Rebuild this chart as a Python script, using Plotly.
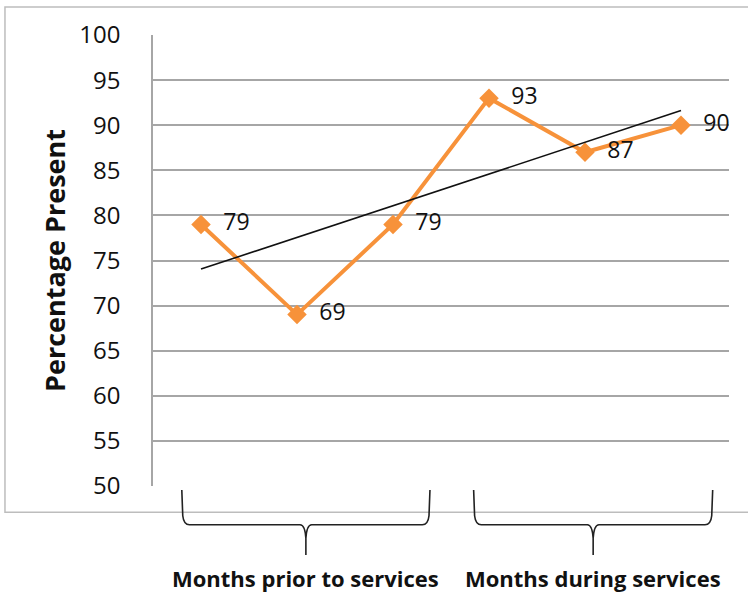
import numpy as np
import plotly.graph_objects as go

# Monthly attendance (percentage present), 3 months before and 3 months during services
months = [1, 2, 3, 4, 5, 6]
percent_present = [79, 69, 79, 93, 87, 90]
y_ticks = [50, 55, 60, 65, 70, 75, 80, 85, 90, 95, 100]
group_labels = ["Months prior to services", "Months during services"]
group_spans = [(0.80, 3.385), (3.84, 6.33)]

ORANGE = "#F7923A"
FONT = "Open Sans"

# linear trend through the attendance values
slope, intercept = np.polyfit(months, percent_present, 1)
trend = [slope * m + intercept for m in months]

fig = go.Figure()
fig.add_trace(go.Scatter(
    x=months, y=percent_present,
    mode="lines+markers+text",
    line=dict(color=ORANGE, width=4),
    marker=dict(symbol="diamond", size=15, color=ORANGE),
    text=["  " + str(v) for v in percent_present],
    textposition="middle right",
    textfont=dict(family=FONT, size=23, color="#111111"),
    showlegend=False,
    cliponaxis=False,
))
fig.add_trace(go.Scatter(
    x=[months[0], months[-1]], y=[trend[0], trend[-1]],
    mode="lines",
    line=dict(color="#111111", width=1.6),
    showlegend=False,
))


def brace_path(x0, x1, ytop, ybar, ytip):
    xm = (x0 + x1) / 2
    r = 0.03
    return (
        f"M {x0},{ytop} L {x0 + 0.01},{ybar + 0.02} "
        f"Q {x0 + 0.02},{ybar} {x0 + 0.08},{ybar} "
        f"L {xm - 0.06},{ybar} Q {xm - 0.01},{ybar} {xm},{ybar - r} "
        f"L {xm},{ytip} "
        f"M {xm},{ybar - r} Q {xm + 0.01},{ybar} {xm + 0.06},{ybar} "
        f"L {x1 - 0.08},{ybar} Q {x1 - 0.02},{ybar} {x1 - 0.01},{ybar + 0.02} "
        f"L {x1},{ytop}"
    )


shapes = [
    # outer chart frame
    dict(type="rect", xref="paper", yref="paper",
         x0=-0.257, x1=1.2, y0=-0.058, y1=1.062,
         line=dict(color="#BDBDBD", width=1.5), layer="below"),
]
annotations = []
for (a, b), label in zip(group_spans, group_labels):
    shapes.append(dict(type="path", xref="x", yref="paper",
                       path=brace_path(a, b, -0.009, -0.086, -0.153),
                       line=dict(color="#222222", width=1.6)))
    annotations.append(dict(x=(a + b) / 2, y=-0.205, xref="x", yref="paper",
                            text=label, showarrow=False,
                            font=dict(family=FONT, size=22, color="#111111",
                                      weight="bold"),
                            yanchor="middle"))

fig.update_layout(
    width=748, height=596,
    margin=dict(l=153, r=19, t=35, b=110),
    paper_bgcolor="white", plot_bgcolor="white",
    xaxis=dict(range=[0.5, 6.5], showticklabels=False, showgrid=False,
               zeroline=False, showline=False, ticks=""),
    yaxis=dict(range=[50, 100], tickvals=y_ticks, showgrid=True,
               gridcolor="#A6A6A6", gridwidth=1.5, zeroline=False,
               showline=True, linecolor="#A6A6A6", linewidth=1.5,
               ticks="", ticklabelstandoff=26,
               tickfont=dict(family=FONT, size=24, color="#111111"),
               title=dict(text="<b>Percentage Present</b>", standoff=6,
                          font=dict(family=FONT, size=27, color="#111111"))),
    shapes=shapes,
    annotations=annotations,
)

fig.write_html("out.html")
